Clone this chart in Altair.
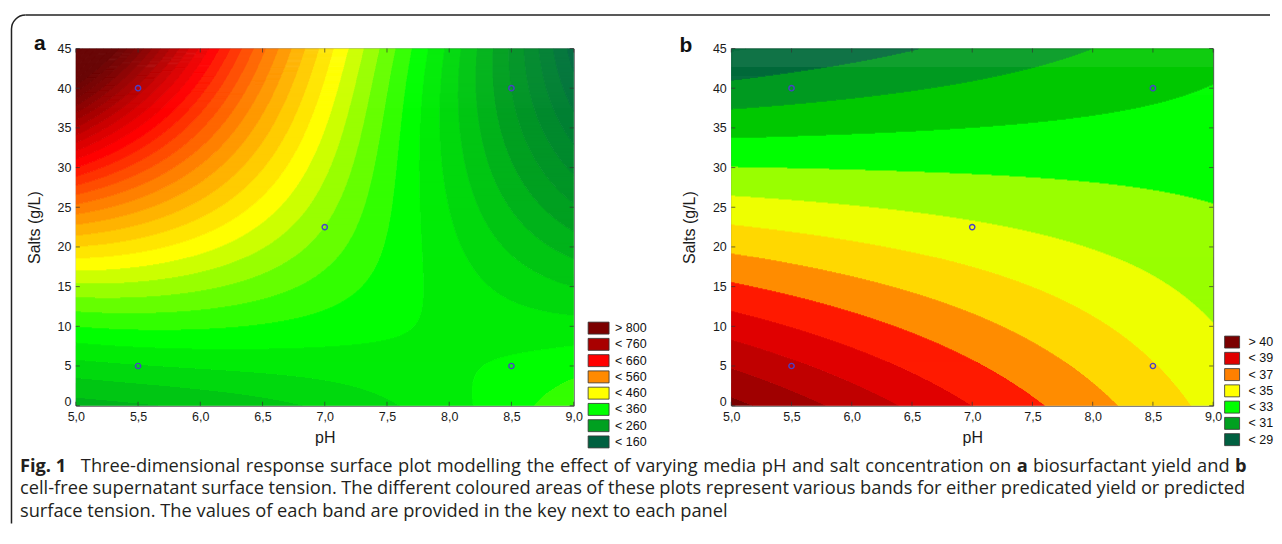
import numpy as np
import pandas as pd
import altair as alt

alt.data_transformers.disable_max_rows()

FONT = "Liberation Sans"
CAP_FONT = "Open Sans"
CAP_SIZE = 18.3
TXT = "#1a1a1a"

# ---------------- values ----------------
PH_TICKS = [5.0, 5.5, 6.0, 6.5, 7.0, 7.5, 8.0, 8.5, 9.0]
SALT_TICKS = [0, 5, 10, 15, 20, 25, 30, 35, 40, 45]

# panel a: predicted yield read at a 4 x 4 grid (rows: salt, cols: pH)
YIELD_GRID_PH = [5.0, 19 / 3, 23 / 3, 9.0]
YIELD_GRID_SALT = [0.0, 15.0, 30.0, 45.0]
YIELD_AT_GRID = [[272, 290, 322, 375],
                 [415, 395, 345, 300],
                 [640, 500, 350, 215],
                 [980, 600, 365, 150]]

# panel b: predicted surface tension read at a 3 x 3 grid (rows: salt, cols: pH)
TENSION_GRID_PH = [5.0, 7.0, 9.0]
TENSION_GRID_SALT = [0.0, 22.5, 45.0]
TENSION_AT_GRID = [[40.3, 37.0, 33.7],
                   [34.1, 33.15, 32.2],
                   [27.9, 29.3, 30.7]]

# experimental design points
DESIGN_PH = [5.5, 5.5, 7.0, 8.5, 8.5]
DESIGN_SALT = [5.0, 40.0, 22.5, 5.0, 40.0]

# contour levels
YIELD_LEVEL_BASE, YIELD_LEVEL_STEP = 140, 20
TENSION_LEVEL_BASE, TENSION_LEVEL_STEP = 0, 1

# band colours (band-midpoint -> colour)
YIELD_COLOR_STOPS = [150, 250, 350, 450, 550, 650, 750, 810, 870]
YIELD_COLORS = ["#006a40", "#00a020", "#00ff00", "#ffff00", "#ff8000",
                "#ff0000", "#a80000", "#7e0000", "#660000"]
TENSION_COLOR_STOPS = [28.5, 29.5, 30.5, 31.5, 32.5, 33.5, 34.5, 35.5,
                       36.5, 37.5, 38.5, 39.5, 40.5]
TENSION_COLORS = ["#006a3a", "#009a20", "#00c800", "#00ff00", "#99ff00",
                  "#eeff00", "#ffd800", "#ff8c00", "#ff1a00", "#e00000",
                  "#c00000", "#a00000", "#7a0000"]

# keys
YIELD_KEY_LABELS = ["> 800", "< 760", "< 660", "< 560", "< 460", "< 360", "< 260", "< 160"]
YIELD_KEY_COLORS = ["#7b0000", "#a80000", "#ff0000", "#ff8a00", "#ffff00", "#00ff00", "#00a020", "#006040"]
TENSION_KEY_LABELS = ["> 40", "< 39", "< 37", "< 35", "< 33", "< 31", "< 29"]
TENSION_KEY_COLORS = ["#7b0000", "#e00000", "#ff8000", "#ffff00", "#00ff00", "#00a020", "#006040"]

# caption (words marked *...* are bold)
CAPTION_LINE_1 = ("*Fig. 1* Three-dimensional response surface plot modelling the effect of varying "
                  "media pH and salt concentration on *a* biosurfactant yield and *b*")
CAPTION_LINE_2 = ("cell-free supernatant surface tension. The different coloured areas of these plots "
                  "represent various bands for either predicated yield or predicted")
CAPTION_LINE_3 = "surface tension. The values of each band are provided in the key next to each panel"

# approximate Open Sans advance widths (em) used to justify the caption lines
OS_W = {' ': .26, 'a': .556, 'b': .613, 'c': .476, 'd': .613, 'e': .561, 'f': .339, 'g': .548,
        'h': .614, 'i': .253, 'j': .253, 'k': .525, 'l': .253, 'm': .930, 'n': .614, 'o': .604,
        'p': .613, 'q': .613, 'r': .408, 's': .477, 't': .353, 'u': .614, 'v': .501, 'w': .778,
        'x': .524, 'y': .502, 'z': .477, '.': .266, '-': .322, ',': .244, 'T': .544, 'H': .739,
        'F': .55, '1': .571}


def word_width(w, bold):
    return sum(OS_W.get(ch, 0.55) for ch in w) * CAP_SIZE * (1.07 if bold else 1.0)


def lagrange(t, nodes):
    nodes = np.asarray(nodes, float)
    W = np.ones((len(t), len(nodes)))
    for j in range(len(nodes)):
        for m in range(len(nodes)):
            if m != j:
                W[:, j] *= (t - nodes[m]) / (nodes[j] - nodes[m])
    return W


def band_table(grid, g_ph, g_salt, base, step, ny, nx=1000):
    s_edges = np.linspace(0, 45, ny + 1)
    s_c = (s_edges[:-1] + s_edges[1:]) / 2
    p_edges = np.linspace(5, 9, nx + 1)
    p_c = (p_edges[:-1] + p_edges[1:]) / 2
    V = lagrange(s_c, g_salt) @ np.asarray(grid, float) @ lagrange(p_c, g_ph).T
    K = np.floor((V - base) / step).astype(int)
    dy = 45 / ny
    dx = 4 / nx
    rows = []
    for i in range(ny):
        k = K[i]
        ch = np.nonzero(np.diff(k))[0] + 1
        st = np.r_[0, ch]
        en = np.r_[ch, nx]
        for a, b in zip(st, en):
            rows.append((p_edges[a], min(p_edges[b] + 0.6 * dx, 9.0),
                         max(s_edges[i] - 0.35 * dy, 0.0), min(s_edges[i + 1] + 0.35 * dy, 45.0),
                         base + step * (k[a] + 0.5)))
    return pd.DataFrame(rows, columns=["x0", "x1", "y0", "y1", "c"])


def txt(text, x, y, size, weight="normal", font=CAP_FONT, align="left", color="#231f20"):
    return alt.Chart(pd.DataFrame({"t": [text]})).mark_text(
        align=align, baseline="alphabetic", fontSize=size, fontWeight=weight,
        font=font, color=color).encode(x=alt.value(x), y=alt.value(y), text="t:N")


def tokens(line):
    out = []
    parts = line.split("*")
    for i, p in enumerate(parts):
        if i % 2 == 1:
            out.append((p, True))
        else:
            out += [(w, False) for w in p.split()]
    return out


def justified(line, x_start, x_end, y, first_gap=None):
    toks = tokens(line)
    widths = [word_width(w, b) for w, b in toks]
    marks = []
    if first_gap is not None:
        w0, b0 = toks[0]
        marks.append(txt(w0, x_start, y, CAP_SIZE, "bold" if b0 else "normal"))
        toks, widths = toks[1:], widths[1:]
        x_start = x_start + first_gap
    gap = (x_end - x_start - sum(widths)) / (len(toks) - 1)
    x = x_start
    for (w, b), wd in zip(toks, widths):
        marks.append(txt(w, x, y, CAP_SIZE, "bold" if b else "normal"))
        x += wd + gap
    return marks


def panel(grid, g_ph, g_salt, base, step, stops, colors, key_labels, key_colors, width, height,
          legend_x, legend_y, sym_path, extras):
    xs = alt.Scale(domain=[5, 9], nice=False, zero=False)
    ys = alt.Scale(domain=[0, 45], nice=False, zero=False)
    x_axis = alt.Axis(values=PH_TICKS, labelExpr="replace(format(datum.value, '.1f'), '.', ',')",
                      title="pH", ticks=False, domain=False, grid=False, labelFlush=False,
                      labelFont=FONT, labelFontSize=12.5, labelColor=TXT, labelPadding=5,
                      titleFont=FONT, titleFontSize=16, titleFontWeight="normal", titleColor=TXT,
                      titlePadding=6)
    y_axis = alt.Axis(values=SALT_TICKS, format="d", title="Salts (g/L)", ticks=False, domain=False,
                      grid=False, labelFlush=False, labelFont=FONT, labelFontSize=12.5,
                      labelBaseline=alt.expr("datum.value === 0 ? 'alphabetic' : 'middle'"),
                      labelColor=TXT, labelPadding=5, titleFont=FONT, titleFontSize=16,
                      titleFontWeight="normal", titleColor=TXT, titlePadding=15)

    bands = alt.Chart(band_table(grid, g_ph, g_salt, base, step, ny=height)).mark_rect(
        strokeWidth=0).encode(
        x=alt.X("x0:Q", scale=xs, axis=x_axis),
        x2="x1:Q",
        y=alt.Y("y0:Q", scale=ys, axis=y_axis),
        y2="y1:Q",
        color=alt.Color("c:Q", scale=alt.Scale(domain=stops, range=colors, interpolate="rgb",
                                                clamp=True), legend=None),
    )
    # small inward tick marks on the four edges of the frame
    tick_style = dict(color="#333333", thickness=1, size=4)
    t_top = alt.Chart(pd.DataFrame({"ph": PH_TICKS, "salt": [45] * len(PH_TICKS)})).mark_tick(
        orient="vertical", yOffset=2, **tick_style).encode(
        x=alt.X("ph:Q", scale=xs, axis=x_axis), y=alt.Y("salt:Q", scale=ys, axis=y_axis))
    t_bot = alt.Chart(pd.DataFrame({"ph": PH_TICKS, "salt": [0] * len(PH_TICKS)})).mark_tick(
        orient="vertical", yOffset=-2, **tick_style).encode(
        x=alt.X("ph:Q", scale=xs, axis=x_axis), y=alt.Y("salt:Q", scale=ys, axis=y_axis))
    t_right = alt.Chart(pd.DataFrame({"ph": [9.0] * len(SALT_TICKS), "salt": SALT_TICKS})).mark_tick(
        orient="horizontal", xOffset=-2, **tick_style).encode(
        x=alt.X("ph:Q", scale=xs, axis=x_axis), y=alt.Y("salt:Q", scale=ys, axis=y_axis))
    t_left = alt.Chart(pd.DataFrame({"ph": [5.0] * len(SALT_TICKS), "salt": SALT_TICKS})).mark_tick(
        orient="horizontal", xOffset=2, **tick_style).encode(
        x=alt.X("ph:Q", scale=xs, axis=x_axis), y=alt.Y("salt:Q", scale=ys, axis=y_axis))

    pts = alt.Chart(pd.DataFrame({"ph": DESIGN_PH, "salt": DESIGN_SALT})).mark_point(
        shape="circle", filled=False, size=28, strokeWidth=1.4, color="#4a40c8", opacity=1).encode(
        x=alt.X("ph:Q", scale=xs, axis=x_axis),
        y=alt.Y("salt:Q", scale=ys, axis=y_axis),
    )
    key = alt.Chart(pd.DataFrame({"key": key_labels})).mark_square(
        stroke="#333333", strokeWidth=0.8).encode(
        color=alt.Color("key:N", scale=alt.Scale(domain=key_labels, range=key_colors),
                        legend=alt.Legend(orient="none", legendX=legend_x, legendY=legend_y,
                                          title=None, direction="vertical", symbolType=sym_path,
                                          symbolSize=144, symbolStrokeColor="#333333",
                                          symbolStrokeWidth=0.8, symbolOpacity=1,
                                          labelFont=FONT, labelFontSize=12.5, labelColor="#111111",
                                          labelOffset=10, rowPadding=-0.7, padding=0))
    ).transform_filter("false")
    return alt.layer(bands, t_top, t_bot, t_right, t_left, pts, key, *extras).resolve_scale(
        color="independent").properties(width=width, height=height)


# figure frame (positions relative to the panel-a plot origin)
frame_arc = alt.Chart(pd.DataFrame({"k": [0]})).mark_arc(
    theta=4.7124, theta2=6.2832, radius=14.75, radius2=13.25, color="#222222").encode(
    x=alt.value(-50.5), y=alt.value(-19.5))
frame_top = alt.Chart(pd.DataFrame({"k": [0]})).mark_rule(strokeWidth=1.5, color="#222222").encode(
    x=alt.value(-50.5), x2=alt.value(1197), y=alt.value(-33.5))
frame_left = alt.Chart(pd.DataFrame({"k": [0]})).mark_rule(strokeWidth=1.5, color="#222222").encode(
    x=alt.value(-64.5), y=alt.value(-19.5), y2=alt.value(476))

caption = (justified(CAPTION_LINE_1, -56, 1174, 424, first_gap=61)
           + justified(CAPTION_LINE_2, -56, 1172, 447)
           + [txt(CAPTION_LINE_3, -56, 470, CAP_SIZE)])

extras_a = [frame_arc, frame_top, frame_left,
            txt("a", -42, 1, 21, "bold", FONT, color="#111111")] + caption
extras_b = [txt("b", -52, 3, 21, "bold", FONT, color="#111111")]

panel_a = panel(YIELD_AT_GRID, YIELD_GRID_PH, YIELD_GRID_SALT, YIELD_LEVEL_BASE, YIELD_LEVEL_STEP,
                YIELD_COLOR_STOPS, YIELD_COLORS, YIELD_KEY_LABELS, YIELD_KEY_COLORS, 499, 358,
                517.5, 273.75, "M-1.75,-1H1.75V1H-1.75Z", extras_a)
panel_b = panel(TENSION_AT_GRID, TENSION_GRID_PH, TENSION_GRID_SALT, TENSION_LEVEL_BASE,
                TENSION_LEVEL_STEP, TENSION_COLOR_STOPS, TENSION_COLORS, TENSION_KEY_LABELS,
                TENSION_KEY_COLORS, 483, 358, 495.5, 287.75, "M-1.25,-1H1.25V1H-1.25Z", extras_b)

chart = alt.hconcat(panel_a, panel_b, spacing=158, bounds="flush").properties(
    padding={"left": 2, "top": 5, "right": 0, "bottom": 0}
).configure_view(stroke="#444444", strokeWidth=1)

chart.save("out.html", embed_options={"renderer": "svg", "actions": False})
